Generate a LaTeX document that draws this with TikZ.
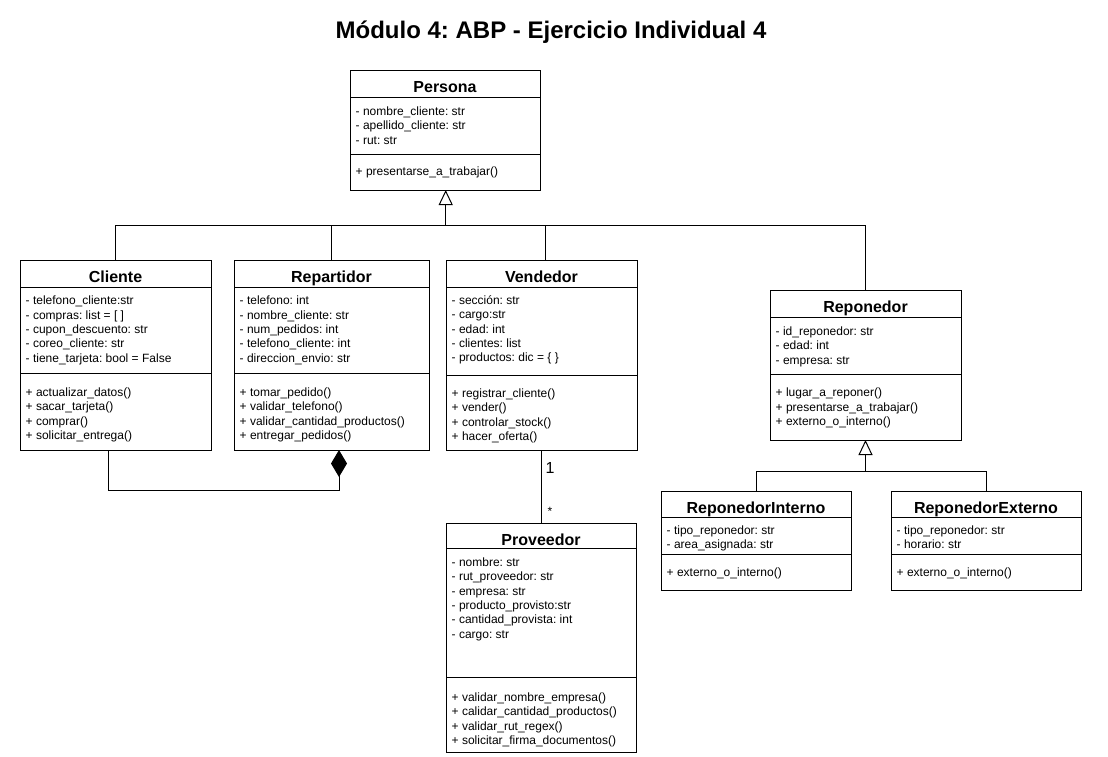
\documentclass[tikz,border=0pt]{standalone}
\usepackage{fontspec}
\setmainfont{Liberation Sans}
\usetikzlibrary{arrows.meta}
\frenchspacing
\tikzset{
  classbox/.style={draw, line width=1pt, inner sep=0pt, outer sep=0pt, fill=white},
  classtitle/.style={font=\fontsize{16}{19}\selectfont\bfseries, inner sep=0pt, anchor=base},
  members/.style={font=\fontsize{12}{14.4}\selectfont, align=left, inner sep=0pt, anchor=north west},
  conn/.style={line width=1pt},
  inh/.style={conn, -{Triangle[open, length=15pt, width=14pt, fill=white]}},
  aggr/.style={conn, -{Diamond[length=27pt, width=16pt]}},
  mult/.style={inner sep=0pt, anchor=base},
  titletext/.style={font=\fontsize{24}{28}\selectfont\bfseries, inner sep=0pt, anchor=base}
}
\newcommand\umlbox[8]{%
  \node[classbox, minimum width={(#3-#2)*1pt}, minimum height={(#7-#4)*1pt}] (#1) at ({(#2+#3)/2},{(#4+#7)/2}) {};
  \draw[conn] (#2,#5) -- (#3,#5);
  \draw[conn] (#2,#6) -- (#3,#6);
  \node[classtitle] (#1-t) at ({(#2+#3)/2},{#4+22}) {#8};
}
\newcommand\memb[4]{\node[members] (#1) at ({#2+1.5},{#3-10.08}) {\strut#4};}
\begin{document}
\begin{tikzpicture}[x=1pt,y=-1pt]
\fill[white] (0,0) rectangle (1108,756);
\useasboundingbox (0,0) rectangle (1108,756);

\node[titletext] (title) at (551,38) {Módulo 4: ABP - Ejercicio Individual 4};

% Persona
\umlbox{persona}{350}{540}{70}{97}{154}{190}{Persona}
\memb{persona-a}{354}{115}{- nombre\_cliente: str\\- apellido\_cliente: str\\- rut: str}
\memb{persona-m}{354}{175}{+ presentarse\_a\_trabajar()}

% Cliente
\umlbox{cliente}{20}{211}{260}{287}{373}{450}{Cliente}
\memb{cliente-a}{24}{304.5}{- telefono\_cliente:str\\- compras: list = [ ]\\- cupon\_descuento: str\\- coreo\_cliente: str\\- tiene\_tarjeta: bool = False}
\memb{cliente-m}{24}{396}{+ actualizar\_datos()\\+ sacar\_tarjeta()\\+ comprar()\\+ solicitar\_entrega()}

% Repartidor
\umlbox{repartidor}{234}{429}{260}{287}{373}{450}{Repartidor}
\memb{repartidor-a}{238}{304.5}{- telefono: int\\- nombre\_cliente: str\\- num\_pedidos: int\\- telefono\_cliente: int\\- direccion\_envio: str}
\memb{repartidor-m}{238}{396}{+ tomar\_pedido()\\+ validar\_telefono()\\+ validar\_cantidad\_productos()\\+ entregar\_pedidos()}

% Vendedor
\umlbox{vendedor}{446}{637}{260}{287}{375}{450}{Vendedor}
\memb{vendedor-a}{450}{304}{- sección: str\\- cargo:str\\- edad: int\\- clientes: list\\- productos: dic = \{ \}}
\memb{vendedor-m}{450}{397}{+ registrar\_cliente()\\+ vender()\\+ controlar\_stock()\\+ hacer\_oferta()}

% Proveedor
\umlbox{proveedor}{446}{636}{523}{548}{677}{752}{Proveedor}
\memb{proveedor-a}{450}{566}{- nombre: str\\- rut\_proveedor: str\\- empresa: str\\- producto\_provisto:str\\- cantidad\_provista: int\\- cargo: str}
\memb{proveedor-m}{450}{701}{+ validar\_nombre\_empresa()\\+ calidar\_cantidad\_productos()\\+ validar\_rut\_regex()\\+ solicitar\_firma\_documentos()}

% Reponedor
\umlbox{reponedor}{770}{961}{290}{317}{374}{440}{Reponedor}
\memb{reponedor-a}{774}{335}{- id\_reponedor: str\\- edad: int\\- empresa: str}
\memb{reponedor-m}{774}{396.5}{+ lugar\_a\_reponer()\\+ presentarse\_a\_trabajar()\\+ externo\_o\_interno()}

% ReponedorInterno
\umlbox{rint}{661}{851}{491}{517}{554}{590}{ReponedorInterno}
\memb{rint-a}{665}{534}{- tipo\_reponedor: str\\- area\_asignada: str}
\memb{rint-m}{665}{576.5}{+ externo\_o\_interno()}

% ReponedorExterno
\umlbox{rext}{891}{1081}{491}{517}{554}{590}{ReponedorExterno}
\memb{rext-a}{895}{534}{- tipo\_reponedor: str\\- horario: str}
\memb{rext-m}{895}{576.5}{+ externo\_o\_interno()}

% Inheritance from Persona
\coordinate (bus) at ([xshift=0.7pt]persona.south |- 0,225.7);
\coordinate (vtop) at ([xshift=4.2pt]vendedor.north);
\draw[inh] (bus) -- ([xshift=0.7pt]persona.south);
\draw[conn] (cliente.north) |- (reponedor.north |- bus) -- (reponedor.north);
\draw[conn] (repartidor.north) -- (repartidor.north |- bus);
\draw[conn] (vtop) -- (vtop |- bus);

% Inheritance from Reponedor
\coordinate (bus2) at (reponedor.south |- 0,471);
\draw[inh] (bus2) -- (reponedor.south);
\draw[conn] (rint.north) |- (rext.north |- bus2) -- (rext.north);

% Aggregation Cliente - Repartidor
\draw[aggr] ([xshift=-7.5pt]cliente.south) -- ++(0,40) -| ([xshift=7.5pt]repartidor.south);

% Association Vendedor - Proveedor
\draw[conn] (vendedor.south) -- (vendedor.south |- proveedor.north);
\node[mult, font=\fontsize{16}{19}\selectfont] (m1) at (550,473.5) {1};
\node[mult, font=\fontsize{12}{14}\selectfont] (m2) at (550,515) {*};
\end{tikzpicture}
\end{document}
